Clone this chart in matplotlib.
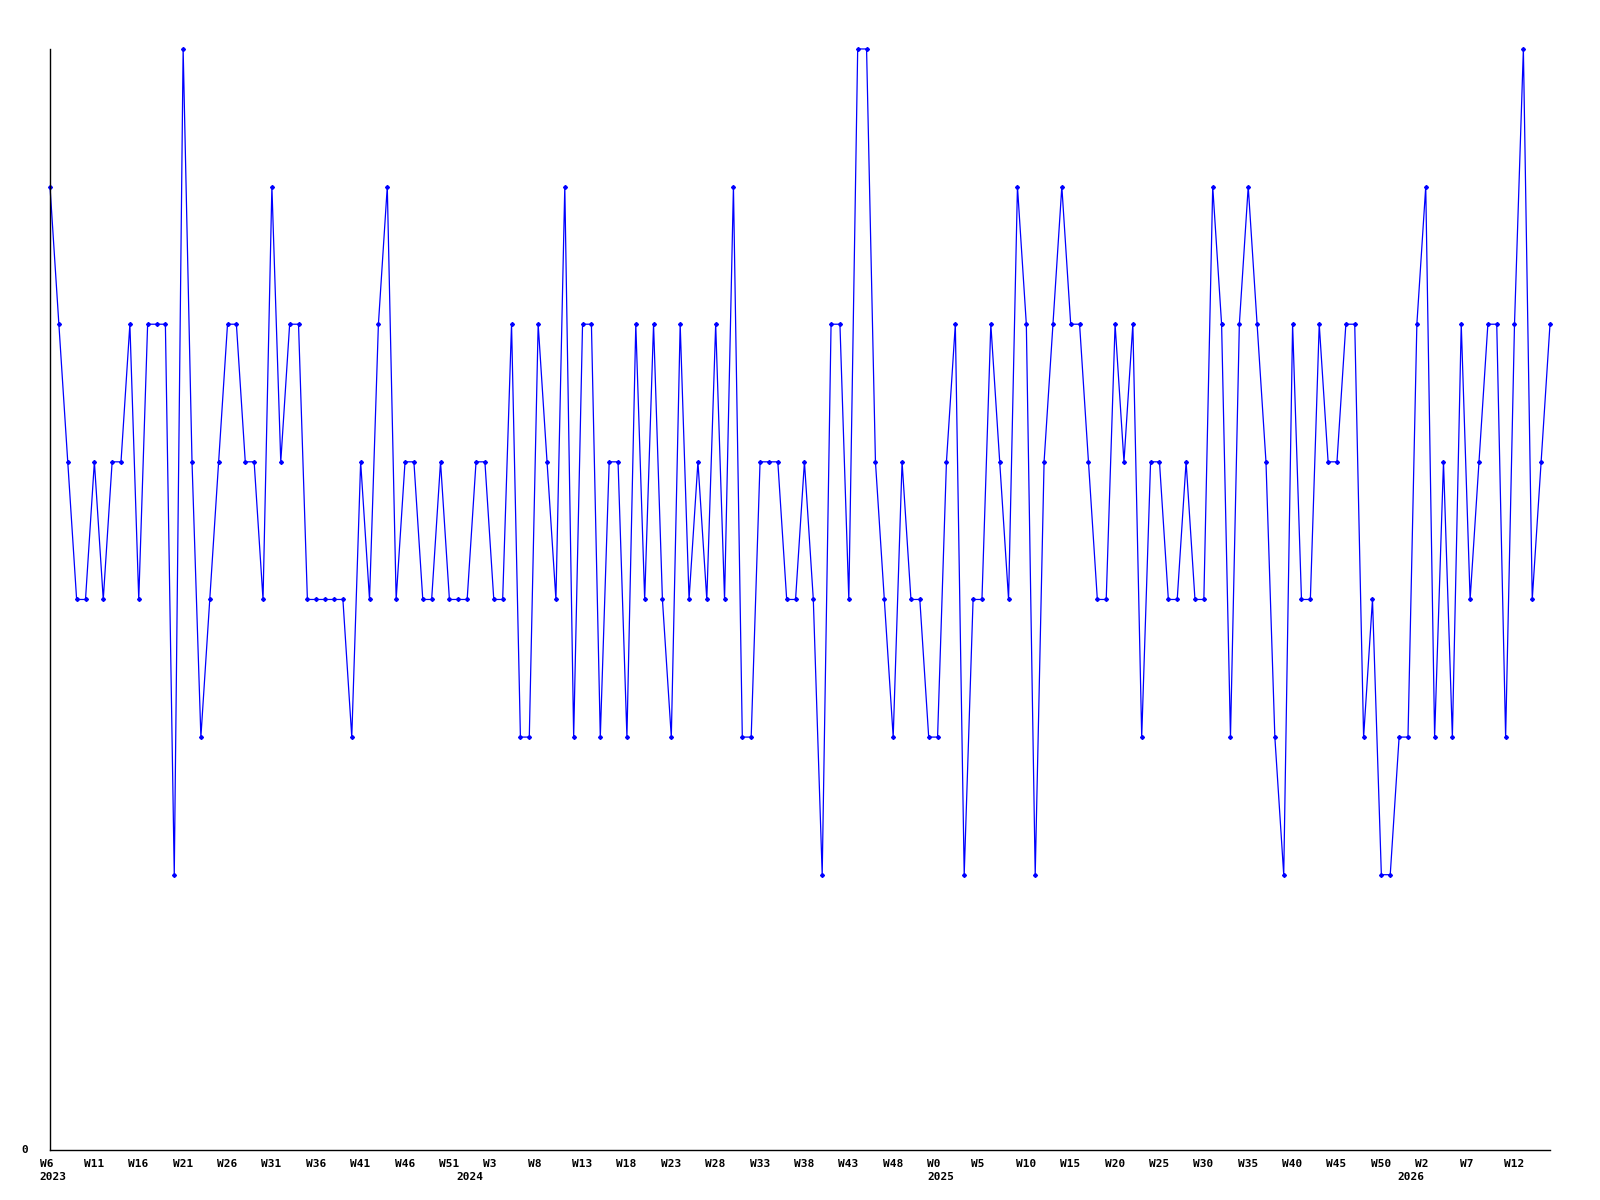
import matplotlib
matplotlib.use("Agg")
import matplotlib.pyplot as plt
import matplotlib.transforms as transforms

# Weekly counts, first point is week 6 of 2023
start_year = 2023
start_week = 6
values = [7, 6, 5, 4, 4, 5, 4, 5, 5, 6, 4, 6, 6, 6, 2, 8, 5, 3, 4, 5, 6,
          6, 5, 5, 4, 7, 5, 6, 6, 4, 4, 4, 4, 4, 3, 5, 4, 6, 7, 4, 5, 5,
          4, 4, 5, 4, 4, 4, 5, 5, 4, 4, 6, 3, 3, 6, 5, 4, 7, 3, 6, 6, 3,
          5, 5, 3, 6, 4, 6, 4, 3, 6, 4, 5, 4, 6, 4, 7, 3, 3, 5, 5, 5, 4,
          4, 5, 4, 2, 6, 6, 4, 8, 8, 5, 4, 3, 5, 4, 4, 3, 3, 5, 6, 2, 4,
          4, 6, 5, 4, 7, 6, 2, 5, 6, 7, 6, 6, 5, 4, 4, 6, 5, 6, 3, 5, 5,
          4, 4, 5, 4, 4, 7, 6, 3, 6, 7, 6, 5, 3, 2, 6, 4, 4, 6, 5, 5,
          6, 6, 3, 4, 2, 2, 3, 3, 6, 7, 3, 5, 3, 6, 4, 5, 6, 6, 3, 6, 8, 4, 5, 6]

# week labels: weeks run W0..W52 inside each year
years = []
weeks = []
year, week = start_year, start_week
for v in values:
    years.append(year)
    weeks.append(week)
    week += 1
    if week > 52:
        week = 0
        year += 1

x = list(range(len(values)))

fig = plt.figure(figsize=(16, 12), dpi=100)
ax = fig.add_axes([0.03125, 0.0417, 0.9375, 0.9175])
ax.plot(x, values, color='#0000ff', linewidth=0.9, marker='D', markersize=2.0,
        markerfacecolor='#0000ff', markeredgecolor='#0000ff', clip_on=False)

ax.set_xlim(0, len(values) - 1)
ax.set_ylim(0, 8)
ax.spines['top'].set_visible(False)
ax.spines['right'].set_visible(False)
ax.spines['left'].set_linewidth(1.0)
ax.spines['bottom'].set_linewidth(1.0)
ax.set_xticks([])
ax.set_yticks([])

font = dict(family='DejaVu Sans Mono', fontweight='bold', fontsize=8)

# labels start a little left of their point
shift = transforms.ScaledTranslation(-10.5 / 100, 0, fig.dpi_scale_trans)
base = transforms.blended_transform_factory(ax.transData, ax.transAxes)
for i in x:
    if i % 5 == 0:
        ax.text(i, -0.008, 'W%d' % weeks[i], transform=base + shift,
                ha='left', va='top', **font)
    if i == 0 or weeks[i] == 0:
        ax.text(i, -0.020, str(years[i]), transform=base + shift,
                ha='left', va='top', **font)

ax.text(-0.019, 0.0, '0', transform=ax.transAxes, ha='left', va='center', **font)

plt.savefig('out.png', dpi=100, facecolor='white')
